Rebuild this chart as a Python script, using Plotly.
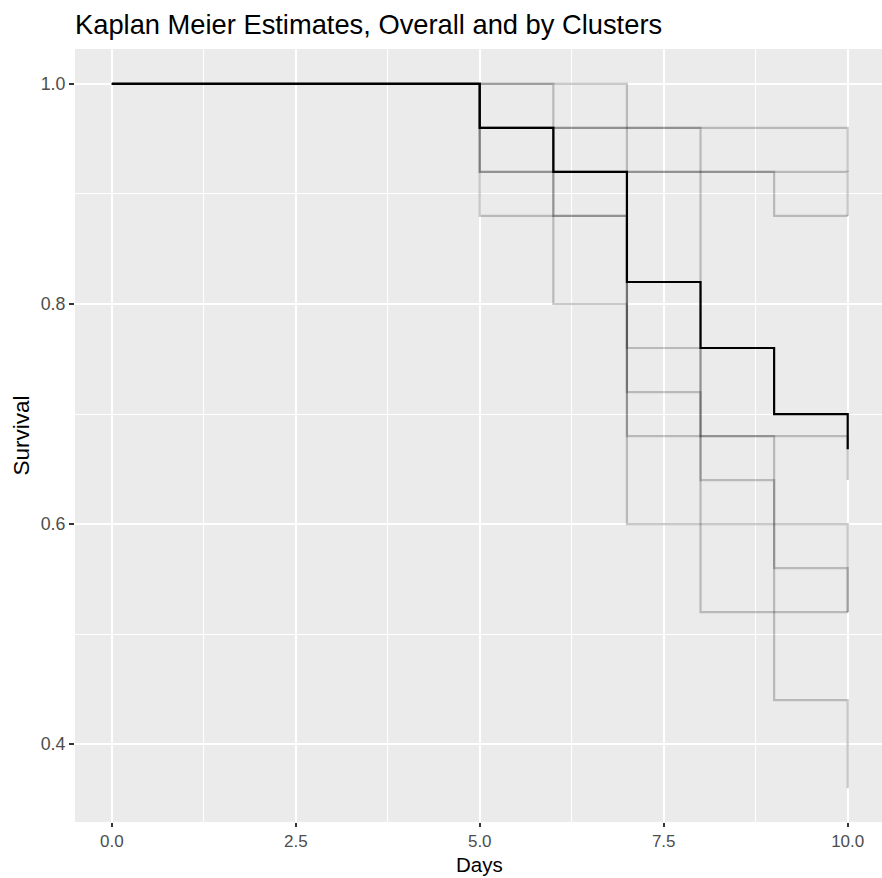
import plotly.graph_objects as go

days = [0, 5, 6, 7, 8, 9, 10]
overall = [1.0, 0.96, 0.92, 0.82, 0.76, 0.70, 0.668]
cluster_1 = [1.0, 1.0, 1.0, 0.96, 0.96, 0.96, 0.92]
cluster_2 = [1.0, 1.0, 0.96, 0.96, 0.68, 0.68, 0.64]
cluster_3 = [1.0, 0.92, 0.92, 0.92, 0.92, 0.92, 0.88]
cluster_4 = [1.0, 0.92, 0.80, 0.60, 0.60, 0.60, 0.52]
cluster_5 = [1.0, 0.96, 0.96, 0.92, 0.92, 0.88, 0.88]
cluster_6 = [1.0, 0.96, 0.92, 0.76, 0.64, 0.44, 0.36]
cluster_7 = [1.0, 0.96, 0.88, 0.72, 0.52, 0.52, 0.52]
cluster_8 = [1.0, 0.88, 0.88, 0.68, 0.68, 0.56, 0.52]
clusters = [cluster_1, cluster_2, cluster_3, cluster_4,
            cluster_5, cluster_6, cluster_7, cluster_8]

x_ticks = [0, 2.5, 5, 7.5, 10]
x_ticktext = ["0.0", "2.5", "5.0", "7.5", "10.0"]
x_minor = [1.25, 3.75, 6.25, 8.75]
y_ticks = [0.4, 0.6, 0.8, 1.0]
y_ticktext = ["0.4", "0.6", "0.8", "1.0"]
y_minor = [0.5, 0.7, 0.9]

FONT = "Liberation Sans, Arial, Helvetica, sans-serif"

fig = go.Figure()
for c in clusters:
    fig.add_trace(go.Scatter(x=days, y=c, mode="lines", line_shape="hv",
                             line=dict(color="rgba(0,0,0,0.21)", width=2.2),
                             showlegend=False, hoverinfo="skip"))
fig.add_trace(go.Scatter(x=days, y=overall, mode="lines", line_shape="hv",
                         line=dict(color="black", width=2.2),
                         showlegend=False))

fig.update_layout(
    width=882, height=878,
    margin=dict(l=75, r=0, t=49, b=56),
    paper_bgcolor="white",
    plot_bgcolor="#EBEBEB",
    font=dict(family=FONT),
    title=dict(text="Kaplan Meier Estimates, Overall and by Clusters",
               x=75 / 882, xanchor="left", xref="container",
               y=1 - 24 / 878, yanchor="middle", yref="container",
               font=dict(size=27.3, color="black", family=FONT)),
    showlegend=False,
)
fig.update_xaxes(
    range=[-0.5, 10.466], tickvals=x_ticks, ticktext=x_ticktext,
    showgrid=True, gridcolor="white", gridwidth=2.2, zeroline=False,
    ticks="outside", ticklen=4, tickcolor="#333333", tickwidth=2,
    tickfont=dict(size=17, color="#4D4D4D"),
    minor=dict(tickvals=x_minor, showgrid=True,
               gridcolor="white", gridwidth=1.1, ticks=""),
    showline=False,
)
fig.update_yaxes(
    range=[0.3293, 1.0317], tickvals=y_ticks, ticktext=y_ticktext,
    showgrid=True, gridcolor="white", gridwidth=2.2, zeroline=False,
    ticks="outside", ticklen=5, tickcolor="#333333", tickwidth=2,
    tickfont=dict(size=17.8, color="#4D4D4D"),
    minor=dict(tickvals=y_minor, showgrid=True,
               gridcolor="white", gridwidth=1.1, ticks=""),
    showline=False,
)
fig.add_annotation(text="Days", xref="x", yref="paper", x=5, y=0,
                   yshift=-42, showarrow=False, yanchor="middle",
                   font=dict(size=20.5, color="black", family=FONT))
fig.add_annotation(text="Survival", xref="paper", yref="paper", x=0, y=0.5,
                   xshift=-54, textangle=-90, showarrow=False, xanchor="center",
                   font=dict(size=22.5, color="black", family=FONT))

fig.write_html("out.html",
               config={"displayModeBar": False},
               post_script="document.body.style.margin='0px';"
                           "document.body.style.overflow='hidden';")
